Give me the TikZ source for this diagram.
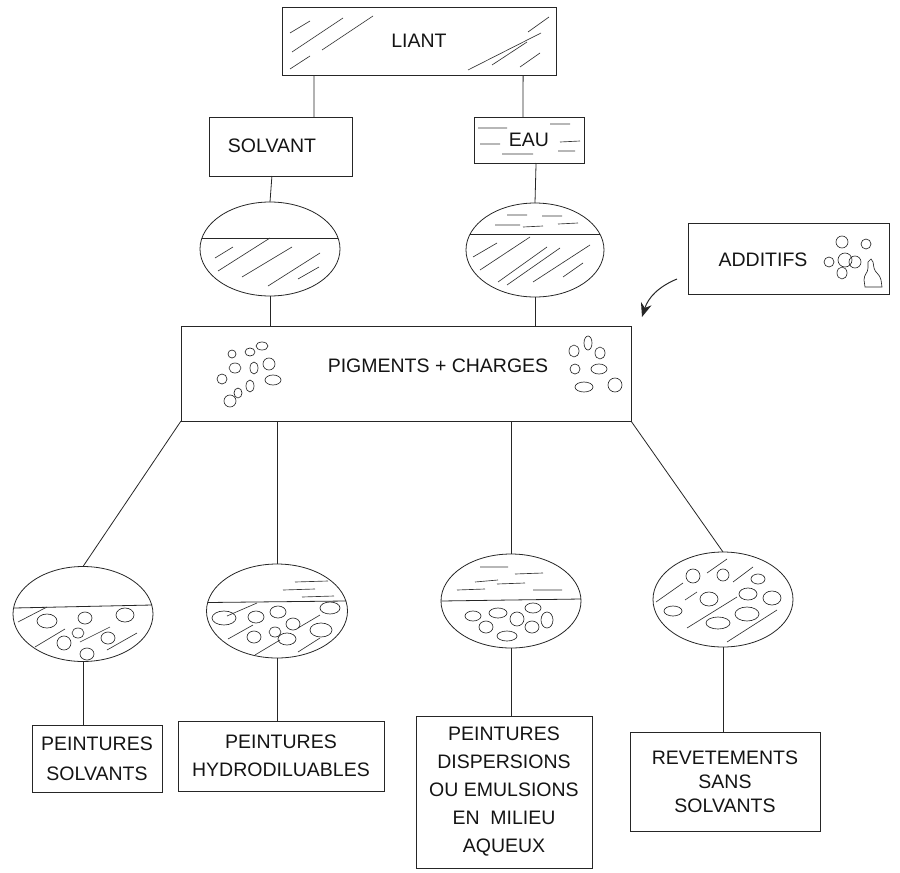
\documentclass[tikz,border=0pt]{standalone}
\usepackage{fontspec}
\setmainfont{Liberation Sans}
\usetikzlibrary{shapes.geometric,arrows.meta,calc}

\tikzset{
	box/.style={draw=black!85, line width=0.8pt, rectangle, inner sep=0pt, outer sep=0pt},
	mix/.style={draw=black!85, line width=0.8pt, ellipse, inner sep=0pt, outer sep=0pt, minimum width=140pt, minimum height=94pt},
	lbl/.style={font=\fontsize{19.5}{28}\selectfont, text=black!92, align=center, inner sep=0pt},
	link/.style={draw=black!85, line width=0.8pt},
	hatch/.style={draw=black!80, line width=0.65pt},
	grain/.style={draw=black!85, line width=0.65pt}
}

\begin{document}
\begin{tikzpicture}[x=1pt, y=-1pt]
		\useasboundingbox (0,0) rectangle (900,873);
		% top row
		\node[box, lbl, minimum width=274pt, minimum height=68pt] (liant) at (419,41) {LIANT};
		\node[box, minimum width=143pt, minimum height=59pt] (solvant) at (280.5,146.5) {};
		\node[lbl] (solvant text) at (272,146) {SOLVANT};
		\node[box, lbl, minimum width=110pt, minimum height=46pt] (eau) at (529,140) {EAU};
		\draw[hatch] (290,33) -- (310,21) (292,52) -- (343,18) (290,69) -- (310,56) (322,50) -- (373,16);
		\draw[hatch] (528,32) -- (549,17) (468,70) -- (541,33) (492,65) -- (527,42) (520,67) -- (540,53);
		\draw[hatch] (478,128) -- (507,128) (550,124) -- (570,124) (480,144) -- (500,144) (560,142) -- (580,141) (502,154) -- (533,154) (558,151) -- (575,151);

		% mixtures
		\node[mix] (solvmix) at (270,249) {};
		\node[mix, minimum width=138pt] (eaumix) at (535,250) {};
		\draw[link] (202,238) -- (338,238);
		\draw[hatch] (215,258) -- (233,247) (218,271) -- (270,238) (242,277) -- (292,247) (268,286) -- (320,253) (298,279) -- (319,267);
		\draw[link] (470,234) -- (600,234);
		\draw[hatch] (507,215) -- (527,215) (542,216) -- (562,216) (495,225) -- (520,225) (523,227) -- (543,226) (558,224) -- (578,223);
		\draw[hatch] (473,257) -- (497,243) (480,270) -- (530,237) (498,282) -- (547,247) (507,285) -- (560,248) (533,282) -- (590,245) (563,277) -- (583,263);

		% pigments
		\node[box, minimum width=450pt, minimum height=95pt] (pigments) at (406,373.5) {};
		\node[lbl] (pigments text) at (438,366) {PIGMENTS + CHARGES};
		\foreach \x/\y/\rx/\ry in {232/354/4/4, 250/352/5/4, 262/346/6/4, 235/368/6/5, 254/368/4/6, 269/364/6/6, 222/379/5/5, 273/380/8/5, 250/386/4/6, 238/393/4/5, 230/401/6/6, 574/351/5/6, 588/343/4/7, 600/353/5/6, 575/369/5/5, 599/369/8/5, 584/387/9/5, 615/385/7/7}
			\draw[grain] (\x,\y) ellipse ({\rx} and {\ry});

		% additifs
		\node[box, minimum width=201pt, minimum height=71pt] (additifs) at (788.5,258.5) {};
		\node[lbl] (additifs text) at (763,260) {ADDITIFS};
		\foreach \x/\y/\rx/\ry in {842/242/6/6, 866/244/5/5, 829/262/5/5, 845/260/7/7, 855/262/6/6, 842/273/5/6}
			\draw[grain] (\x,\y) ellipse ({\rx} and {\ry});
		\draw[grain] (865,287) -- (864,280) .. controls (864,274) and (868,273) .. (868,268) -- (868,262) -- (871,259) -- (873,262) -- (874,268) .. controls (875,273) and (880,274) .. (881,280) -- (882,287) -- cycle;
		\coordinate (push) at (677,279);
		\coordinate (drop) at (642,317);
		\draw[link, line width=1pt, -{Stealth[length=14pt, width=11pt]}] (push) to[bend right=25] (drop);

		% bottom mixtures
		\node[mix, minimum height=95pt] (bmix1) at (83,614) {};
		\node[mix, minimum width=141pt] (bmix2) at (277,611) {};
		\node[mix] (bmix3) at (511,601) {};
		\node[mix, minimum height=95pt] (bmix4) at (723,599.5) {};
		\draw[link] (14,608) -- (152,605);
		\draw[hatch] (18,622) -- (47,607) (35,647) -- (65,629) (80,642) -- (110,627) (107,650) -- (137,633);
		\foreach \x/\y/\rx/\ry in {47/621/10/7, 85/618/7/6, 125/615/9/7, 78/633/6/5, 64/643/7/7, 108/638/7/6, 87/654/7/6}
			\draw[grain] (\x,\y) ellipse ({\rx} and {\ry});
		\draw[link] (208,602.5) -- (346,601);
		\draw[hatch] (295,582) -- (328,581) (283,590) -- (315,589) (302,597) -- (334,596);
		\draw[hatch] (227,616) -- (257,603) (228,639) -- (253,625) (255,655) -- (280,640) (298,628) -- (320,615) (298,652) -- (320,638);
		\foreach \x/\y/\rx/\ry in {224/618/12/7, 256/617/8/6, 278/612/8/6, 293/624/7/6, 330/608/10/6, 275/632/6/5, 254/637/7/6, 287/639/9/6, 321/630/11/7}
			\draw[grain] (\x,\y) ellipse ({\rx} and {\ry});
		\draw[link] (441,601) -- (581,599);
		\draw[hatch] (480,567) -- (508,567) (515,574) -- (543,573) (475,582) -- (498,580) (497,584) -- (525,583) (457,590) -- (485,589) (533,590) -- (562,590);
		\foreach \x/\y/\rx/\ry in {473/616/8/5, 498/613/9/5, 517/619/7/7, 533/608/8/5, 547/620/6/8, 486/627/7/6, 532/627/7/6, 507/636/10/5}
			\draw[grain] (\x,\y) ellipse ({\rx} and {\ry});
		\draw[hatch] (656,602) -- (683,583) (707,573) -- (727,559) (733,582) -- (753,567) (685,600) -- (697,592) (687,628) -- (737,597) (727,642) -- (777,610);
		\foreach \x/\y/\rx/\ry in {693/576/7/7, 723/575/6/6, 758/579/7/5, 709/599/9/7, 748/594/9/6, 772/598/9/7, 673/611/9/5, 747/614/12/7, 718/623/12/6}
			\draw[grain] (\x,\y) ellipse ({\rx} and {\ry});

		% paints
		\node[box, lbl, font=\fontsize{19.5}{30}\selectfont, minimum width=130pt, minimum height=67pt] (peint1) at (97,758.5) {PEINTURES\\SOLVANTS};
		\node[box, lbl, minimum width=206pt, minimum height=70pt] (peint2) at (281,756) {PEINTURES\\HYDRODILUABLES};
		\node[box, lbl, minimum width=176pt, minimum height=152pt] (peint3) at (504,792) {PEINTURES\\DISPERSIONS\\OU EMULSIONS\\EN~ MILIEU\\AQUEUX};
		\node[box, lbl, font=\fontsize{19.5}{24}\selectfont, minimum width=190pt, minimum height=99pt] (peint4) at (725,781.5) {REVETEMENTS\\SANS\\SOLVANTS};

		% links
		\draw[link] ($(liant.south west)!0.117!(liant.south east)$) -- ($(solvant.north west)!0.734!(solvant.north east)$);
		\draw[link] ($(liant.south west)!0.88!(liant.south east)$) -- ($(eau.north west)!0.445!(eau.north east)$);
		\draw[link] ($(solvant.south west)!0.44!(solvant.south east)$) -- (solvmix.north);
		\draw[link] ($(eau.south west)!0.564!(eau.south east)$) -- (eaumix.north);
		\draw[link] (solvmix.south) -- (solvmix.south |- pigments.north);
		\draw[link] (eaumix.south) -- (eaumix.south |- pigments.north);
		\draw[link] (pigments.south west) -- (bmix1.north);
		\draw[link] (bmix2.north |- pigments.south) -- (bmix2.north);
		\draw[link] (bmix3.north |- pigments.south) -- (bmix3.north);
		\draw[link] (pigments.south east) -- (bmix4.north);
		\draw[link] (bmix1.south) -- (bmix1.south |- peint1.north);
		\draw[link] (bmix2.south) -- (bmix2.south |- peint2.north);
		\draw[link] (bmix3.south) -- (bmix3.south |- peint3.north);
		\draw[link] (bmix4.south) -- (bmix4.south |- peint4.north);
\end{tikzpicture}
\end{document}
